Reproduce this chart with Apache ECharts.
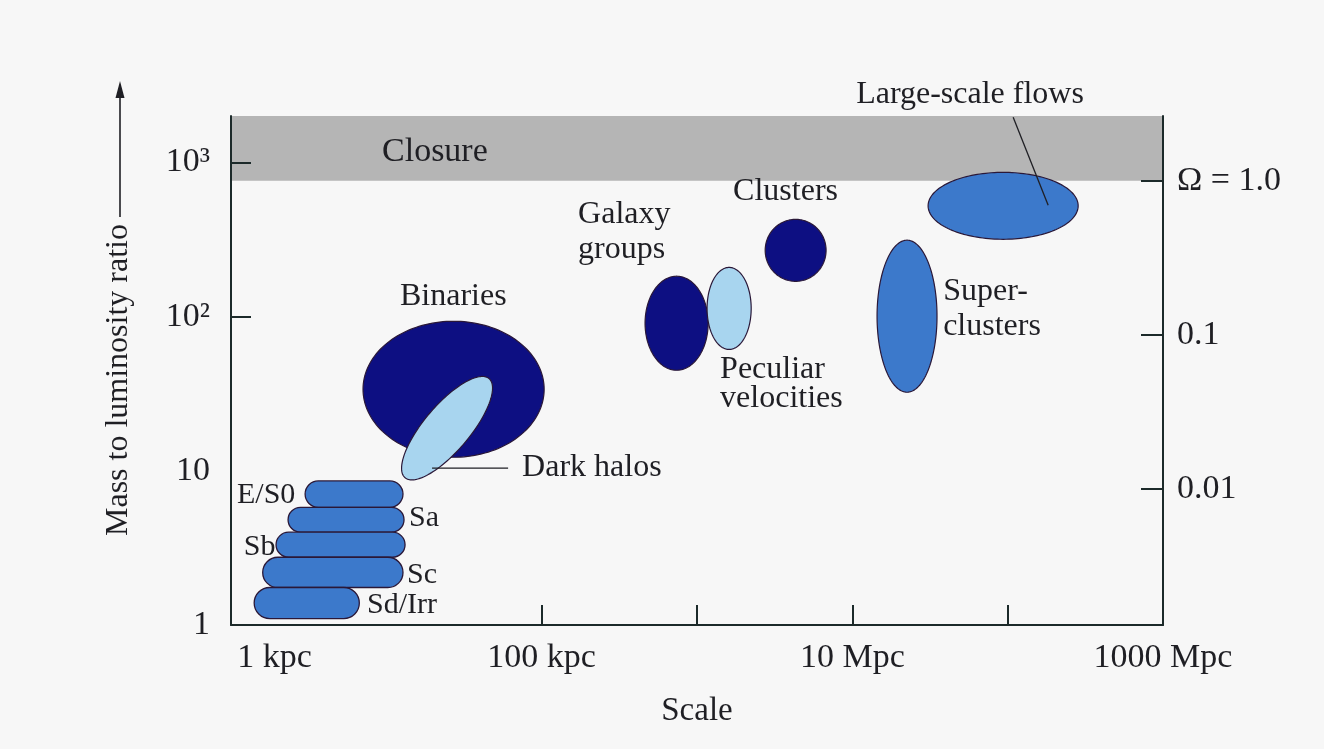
<!DOCTYPE html>
<html>
<head>
<meta charset="utf-8">
<script src="https://cdn.jsdelivr.net/npm/echarts@6/dist/echarts.min.js"></script>
<style>
html,body{margin:0;padding:0;background:#f7f7f7;}
#chart{width:1324px;height:749px;}
</style>
</head>
<body>
<div id="chart"></div>
<script>
// ---------------- data ----------------
// axes (scale in kpc, mass-to-luminosity ratio)
const scaleRange = [1, 1000000];
const mlRange = [1, 2000];
const omegaUnitML = 760;               // M/L that corresponds to Omega = 1
const closureML = [760, 2000];         // grey "Closure" band

const xLabelValues = [1, 100, 10000, 1000000];
const xLabelTexts = ['1 kpc', '100 kpc', '10 Mpc', '1000 Mpc'];
const xTickValues = [100, 1000, 10000, 100000];

const yLabelValues = [1, 10, 100, 1000];
const yLabelTexts = ['1', '10', '10\u00B2', '10\u00B3'];
const yTickValues = [100, 1000];

const omegaValues = [0.01, 0.1, 1];
const omegaTexts = ['0.01', '0.1', '\u03A9 = 1.0'];

// ellipses: centre (kpc, M/L), half sizes in decades, tilt
const ellipseNames = ['Binaries', 'Dark halos', 'Galaxy groups', 'Peculiar velocities', 'Clusters', 'Superclusters', 'Large-scale flows'];
const ellipseScale = [27.1, 24.6, 739, 1610, 4315, 22500, 93500];
const ellipseML = [33.8, 18.9, 90.6, 113, 269, 100.6, 523];
const ellipseHalfWidthDex = [0.583, 0.42, 0.203, 0.142, 0.196, 0.193, 0.483];
const ellipseHalfHeightDex = [0.441, 0.148, 0.305, 0.266, 0.201, 0.493, 0.217];
const ellipseTiltDeg = [0, 50, 0, 0, 0, 0, 0];
const ellipseTone = ['navy', 'light', 'navy', 'light', 'navy', 'mid', 'mid'];

// galaxy types: rounded bars
const galaxyTypes = ['E/S0', 'Sa', 'Sb', 'Sc', 'Sd/Irr'];
const galaxyScaleMin = [3.0, 2.33, 1.95, 1.6, 1.41];
const galaxyScaleMax = [12.8, 13.0, 13.2, 12.8, 6.7];
const galaxyMLMin = [5.8, 4.0, 2.75, 1.75, 1.1];
const galaxyMLMax = [8.6, 5.8, 4.0, 2.75, 1.75];

// text annotations (left edge, vertical middle) in data units
const annoTexts = ['Closure', 'Binaries', 'Galaxy', 'groups', 'Clusters', 'Peculiar', 'velocities', 'Dark halos', 'Super-', 'clusters', 'Large-scale flows', 'E/S0', 'Sa', 'Sb', 'Sc', 'Sd/Irr'];
const annoScale = [9.38, 12.25, 171.6, 171.6, 1708, 1408, 1408, 74.8, 38430, 38430, 10580, 1.093, 14.0, 1.21, 13.6, 7.51];
const annoML = [1163, 135.6, 461, 273.4, 649.6, 45.6, 29.2, 10.56, 146.1, 86.7, 2763, 6.96, 4.94, 3.20, 2.11, 1.348];
const annoSize = [34, 32, 32, 32, 32, 32, 32, 32, 32, 32, 32, 30, 30, 30, 30, 30];

// leader lines
const leaderFromScale = [19.7, 108500];
const leaderFromML = [10.4, 1960];
const leaderToScale = [60.8, 182300];
const leaderToML = [10.4, 527];

// ---------------- styles ----------------
const FONT = '"Liberation Serif", "Times New Roman", serif';
const INK = '#1f1f24';
const AXIS = '#1c2a2a';
const tones = { navy: '#0d0f82', light: '#a8d5ef', mid: '#3c79cb' };
const OUTLINE = '#2a1838';

const chart = echarts.init(document.getElementById('chart'), null, { renderer: 'canvas' });

function lookup(values, texts, v) {
  let best = 0, bd = Infinity;
  for (let i = 0; i < values.length; i++) {
    const d = Math.abs(Math.log10(values[i]) - Math.log10(v));
    if (d < bd) { bd = d; best = i; }
  }
  return texts[best];
}

const option = {
  backgroundColor: '#f7f7f7',
  animation: false,
  grid: { left: 231, right: 161, top: 116, bottom: 124 },
  xAxis: {
    type: 'log', logBase: 10, min: scaleRange[0], max: scaleRange[1], z: 10,
    name: 'Scale', nameLocation: 'middle', nameGap: 70,
    nameTextStyle: { fontFamily: FONT, fontSize: 33, color: INK },
    axisLine: { show: true, onZero: false, lineStyle: { color: AXIS, width: 2 } },
    axisTick: { show: true, inside: true, length: 20, customValues: xTickValues, lineStyle: { color: AXIS, width: 2 } },
    axisLabel: {
      customValues: xLabelValues, margin: 16, fontFamily: FONT, fontSize: 34, color: INK,
      formatter: function (v) {
        const t = lookup(xLabelValues, xLabelTexts, v);
        return t === xLabelTexts[0] ? '{first|' + t + '}' : t;
      },
      rich: { first: { fontFamily: FONT, fontSize: 34, color: INK, padding: [0, 0, 0, 87] } }
    },
    splitLine: { show: false }, minorTick: { show: false }, minorSplitLine: { show: false }
  },
  yAxis: [
    {
      type: 'log', logBase: 10, min: mlRange[0], max: mlRange[1], position: 'left', z: 10,
      axisLine: { show: true, onZero: false, lineStyle: { color: AXIS, width: 2 } },
      axisTick: { show: true, inside: true, length: 20, customValues: yTickValues, lineStyle: { color: AXIS, width: 2 } },
      axisLabel: {
        customValues: yLabelValues, margin: 21, fontFamily: FONT, fontSize: 34, color: INK,
        formatter: function (v) { return lookup(yLabelValues, yLabelTexts, v); }
      },
      splitLine: { show: false }
    },
    {
      type: 'log', logBase: 10, min: mlRange[0] / omegaUnitML, max: mlRange[1] / omegaUnitML, position: 'right', z: 10,
      axisLine: { show: true, onZero: false, lineStyle: { color: AXIS, width: 2 } },
      axisTick: { show: true, inside: true, length: 22, customValues: omegaValues, lineStyle: { color: AXIS, width: 2 } },
      axisLabel: {
        customValues: omegaValues, margin: 14, fontFamily: FONT, fontSize: 34, color: INK,
        formatter: function (v) { return lookup(omegaValues, omegaTexts, v); }
      },
      splitLine: { show: false }
    }
  ],
  graphic: [
    { type: 'text', x: 119, y: 380, rotation: Math.PI / 2,
      style: { text: 'Mass to luminosity ratio', font: '32px ' + FONT, fill: INK, align: 'center', verticalAlign: 'middle' } },
    { type: 'line', shape: { x1: 120, y1: 217, x2: 120, y2: 94 }, style: { stroke: INK, lineWidth: 1.6 } },
    { type: 'polygon', shape: { points: [[120, 81], [115.5, 98], [124.5, 98]] }, style: { fill: INK } }
  ],
  series: [
    {
      type: 'custom', name: 'Closure', z: 1, silent: true,
      data: [[scaleRange[0], closureML[0]]],
      renderItem: function (params, api) {
        const p1 = api.coord([scaleRange[0], closureML[1]]);
        const p2 = api.coord([scaleRange[1], closureML[0]]);
        return { type: 'rect', shape: { x: p1[0], y: p1[1], width: p2[0] - p1[0], height: p2[1] - p1[1] },
          style: { fill: '#b5b5b5' } };
      }
    },
    {
      type: 'custom', name: 'Regions', z: 3, silent: true,
      data: ellipseScale.map((x, i) => [x, ellipseML[i]]),
      renderItem: function (params, api) {
        const i = params.dataIndex;
        const lx0 = Math.log10(ellipseScale[i]), ly0 = Math.log10(ellipseML[i]);
        const a = ellipseHalfWidthDex[i], b = ellipseHalfHeightDex[i];
        const th = ellipseTiltDeg[i] * Math.PI / 180;
        const pts = [];
        for (let k = 0; k < 160; k++) {
          const t = 2 * Math.PI * k / 160;
          const dx = a * Math.cos(t), dy = b * Math.sin(t);
          const lx = lx0 + dx * Math.cos(th) - dy * Math.sin(th);
          const ly = ly0 + dx * Math.sin(th) + dy * Math.cos(th);
          pts.push(api.coord([Math.pow(10, lx), Math.pow(10, ly)]));
        }
        return { type: 'polygon', shape: { points: pts },
          style: { fill: tones[ellipseTone[i]], stroke: OUTLINE, lineWidth: 1.2 } };
      }
    },
    {
      type: 'custom', name: 'Galaxies', z: 3, silent: true,
      data: galaxyTypes.map((g, i) => [galaxyScaleMin[i], galaxyMLMin[i]]),
      renderItem: function (params, api) {
        const i = params.dataIndex;
        const p1 = api.coord([galaxyScaleMin[i], galaxyMLMax[i]]);
        const p2 = api.coord([galaxyScaleMax[i], galaxyMLMin[i]]);
        const h = p2[1] - p1[1];
        return { type: 'rect', shape: { x: p1[0], y: p1[1], width: p2[0] - p1[0], height: h, r: h / 2 },
          style: { fill: tones.mid, stroke: OUTLINE, lineWidth: 1.3 } };
      }
    },
    {
      type: 'custom', name: 'Leaders', z: 4, silent: true,
      data: leaderFromScale.map((x, i) => [x, leaderFromML[i]]),
      renderItem: function (params, api) {
        const i = params.dataIndex;
        const a = api.coord([leaderFromScale[i], leaderFromML[i]]);
        const b = api.coord([leaderToScale[i], leaderToML[i]]);
        return { type: 'line', shape: { x1: a[0], y1: a[1], x2: b[0], y2: b[1] },
          style: { stroke: INK, lineWidth: 1.3 } };
      }
    },
    {
      type: 'custom', name: 'Labels', z: 5, silent: true,
      data: annoTexts.map((t, i) => [annoScale[i], annoML[i]]),
      renderItem: function (params, api) {
        const i = params.dataIndex;
        const p = api.coord([annoScale[i], annoML[i]]);
        return { type: 'text', x: p[0], y: p[1],
          style: { text: annoTexts[i], font: annoSize[i] + 'px ' + FONT, fill: INK,
            align: 'left', verticalAlign: 'middle' } };
      }
    }
  ]
};
chart.setOption(option);
</script>
</body>
</html>
